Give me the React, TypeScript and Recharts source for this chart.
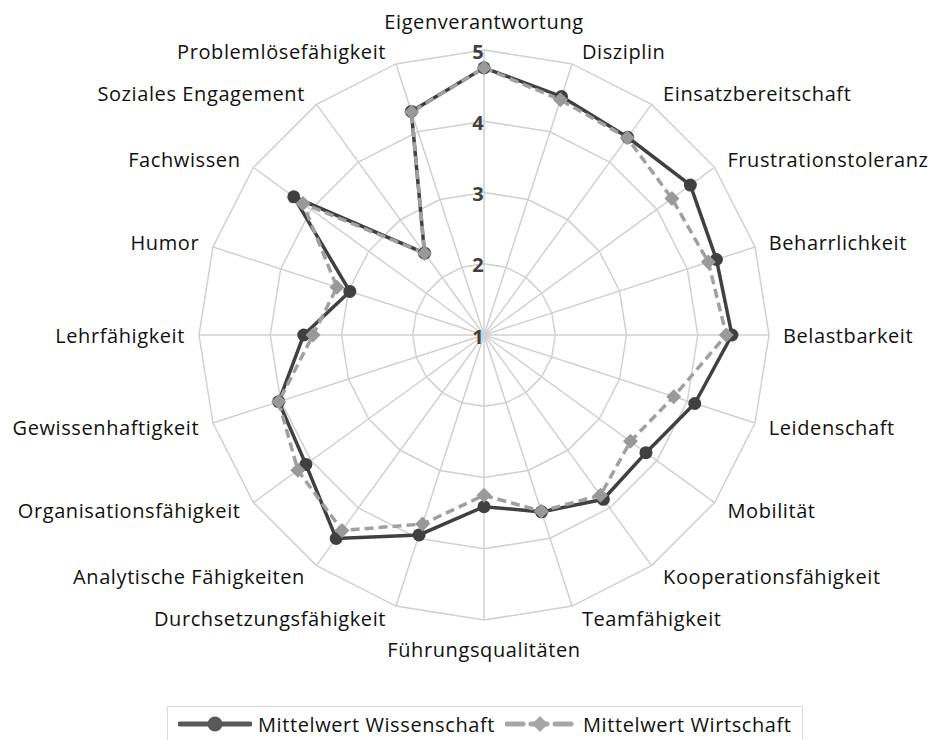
import { RadarChart, Radar, PolarGrid, PolarAngleAxis, PolarRadiusAxis, Legend } from "recharts";

const categories = [
  "Eigenverantwortung",
  "Disziplin",
  "Einsatzbereitschaft",
  "Frustrationstoleranz",
  "Beharrlichkeit",
  "Belastbarkeit",
  "Leidenschaft",
  "Mobilität",
  "Kooperationsfähigkeit",
  "Teamfähigkeit",
  "Führungsqualitäten",
  "Durchsetzungsfähigkeit",
  "Analytische Fähigkeiten",
  "Organisationsfähigkeit",
  "Gewissenhaftigkeit",
  "Lehrfähigkeit",
  "Humor",
  "Fachwissen",
  "Soziales Engagement",
  "Problemlösefähigkeit",
];

const wissenschaft = [4.75, 4.52, 4.43, 4.58, 4.43, 4.48, 4.11, 3.81, 3.85, 3.61, 3.41, 3.95, 4.53, 4.09, 4.03, 3.53, 2.98, 4.3, 2.42, 4.3];
const wirtschaft = [4.75, 4.47, 4.42, 4.26, 4.31, 4.4, 3.8, 3.54, 3.78, 3.6, 3.25, 3.79, 4.39, 4.23, 4.03, 3.4, 3.17, 4.14, 2.42, 4.29];

const radiusTicks = [1, 2, 3, 4, 5];

const seriesNames = ["Mittelwert Wissenschaft", "Mittelwert Wirtschaft"];

const data = categories.map((c, i) => ({
  skill: c,
  wiss: wissenschaft[i],
  wirt: wirtschaft[i],
}));

const CX = 484;
const CY = 335;
const R = 285;
const FONT = "'Open Sans', 'Noto Sans', sans-serif";
const DARK = "#404040";
const LIGHT = "#a0a0a0";

function AngleTick(props: any) {
  const idx = categories.indexOf(props.payload.value);
  const a = (idx * 2 * Math.PI) / categories.length;
  const s = Math.sin(a);
  const c = Math.cos(a);
  const vx = CX + R * s;
  const vy = CY - R * c;
  let x = vx;
  let y = vy;
  let anchor = "middle";
  if (Math.abs(s) < 0.05) {
    y = vy - c * 29;
  } else {
    anchor = s > 0 ? "start" : "end";
    x = vx + Math.sign(s) * (8 + 6 * Math.abs(s));
    y = vy - c * 13;
  }
  return (
    <text
      x={x}
      y={y}
      textAnchor={anchor}
      dominantBaseline="central"
      fill="#111"
      fontSize={20}
      letterSpacing={0.6}
      fontFamily={FONT}
    >
      {props.payload.value}
    </text>
  );
}

function RadiusTick(props: any) {
  return (
    <text
      x={props.x - 6}
      y={props.y + 1}
      textAnchor="middle"
      dominantBaseline="central"
      fill={DARK}
      fontSize={20}
      fontWeight="bold"
      fontFamily={FONT}
    >
      {props.payload.value}
    </text>
  );
}

function CircleDot(props: any) {
  return <circle key={props.index} cx={props.cx} cy={props.cy} r={6.5} fill={DARK} stroke="none" />;
}

function DiamondDot(props: any) {
  const { cx, cy } = props;
  const d = 7.5;
  return (
    <polygon
      key={props.index}
      points={`${cx},${cy - d} ${cx + d},${cy} ${cx},${cy + d} ${cx - d},${cy}`}
      fill="#999"
      stroke="none"
    />
  );
}

function LegendBox() {
  return (
    <div
      style={{
        display: "flex",
        alignItems: "center",
        border: "1.5px solid #d9d9d9",
        padding: "2px 10px",
        height: 30,
        fontFamily: FONT,
        fontSize: 20,
        letterSpacing: 0.6,
        color: "#111",
        background: "#fff",
        whiteSpace: "nowrap",
      }}
    >
      <svg width={74} height={16} style={{ marginRight: 6 }}>
        <line x1={2} y1={8} x2={72} y2={8} stroke="#595959" strokeWidth={5} strokeLinecap="round" />
        <circle cx={37} cy={8} r={7.5} fill="#595959" />
      </svg>
      <span style={{ marginRight: 10 }}>{seriesNames[0]}</span>
      <svg width={70} height={16} style={{ marginRight: 8 }}>
        <line x1={2} y1={8} x2={68} y2={8} stroke="#a6a6a6" strokeWidth={5} strokeDasharray="16 8" strokeLinecap="round" />
        <polygon points="35,0 43,8 35,16 27,8" fill="#a6a6a6" />
      </svg>
      <span>{seriesNames[1]}</span>
    </div>
  );
}

export default function App() {
  return (
    <div style={{ position: "absolute", left: 0, top: 0, width: 930, height: 740, background: "#fff" }}>
      <RadarChart
        width={930}
        height={740}
        data={data}
        cx={CX}
        cy={CY}
        outerRadius={R}
        margin={{ top: 0, right: 0, bottom: 0, left: 0 }}
      >
        <PolarGrid gridType="polygon" stroke="#d0d0d0" strokeWidth={1.5} />
        <PolarAngleAxis dataKey="skill" tick={<AngleTick />} tickLine={false} axisLine={false} />
        <PolarRadiusAxis
          angle={90}
          domain={[1, 5]}
          ticks={radiusTicks as any}
          tickCount={5}
          tick={<RadiusTick />}
          axisLine={false}
          tickLine={false}
        />
        <Radar
          name={seriesNames[0]}
          dataKey="wiss"
          stroke={DARK}
          strokeWidth={3.5}
          fill="none"
          fillOpacity={0}
          dot={CircleDot}
          isAnimationActive={false}
        />
        <Radar
          name={seriesNames[1]}
          dataKey="wirt"
          stroke={LIGHT}
          strokeWidth={3.5}
          strokeDasharray="9 5"
          fill="none"
          fillOpacity={0}
          dot={DiamondDot}
          isAnimationActive={false}
        />
        <Legend
          content={() => <LegendBox />}
          wrapperStyle={{ position: "absolute", left: 167, top: 706, width: "auto" }}
        />
      </RadarChart>
    </div>
  );
}
